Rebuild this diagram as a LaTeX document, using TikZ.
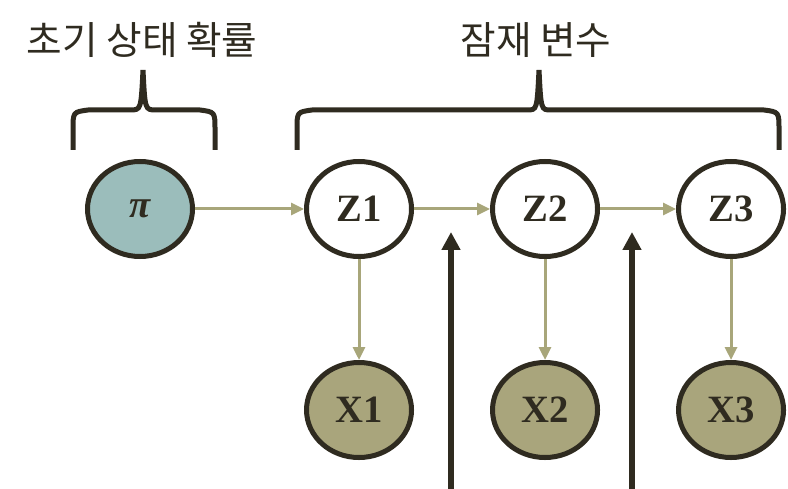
\documentclass[tikz,border=0pt]{standalone}
\usepackage{fontspec}
\setmainfont{Liberation Serif}
\newfontfamily\kfont{Noto Sans CJK KR}
\usetikzlibrary{shapes.geometric, arrows.meta, positioning}
\definecolor{ink}{HTML}{2F2B20}
\definecolor{pifill}{HTML}{9BBDBB}
\definecolor{xfill}{HTML}{A9A57C}
\definecolor{linkcol}{HTML}{A8A67A}
\tikzstyle{hidden} = [ellipse, minimum width=3.15cm, minimum height=2.85cm, draw=ink, line width=0.15cm, fill=white, text=ink, font=\fontsize{33}{36}\selectfont\bfseries]
\tikzstyle{prior} = [hidden, fill=pifill]
\tikzstyle{observed} = [hidden, fill=xfill]
\tikzstyle{link} = [line width=0.09cm, draw=linkcol, -{Triangle[length=0.39cm, width=0.36cm]}]
\tikzstyle{input} = [line width=0.18cm, draw=ink, -{Triangle[length=0.54cm, width=0.54cm]}]
\tikzstyle{brace} = [line width=0.15cm, draw=ink]
\tikzstyle{heading} = [text=ink, font=\kfont\fontsize{33}{38}\selectfont]

\begin{document}
\begin{tikzpicture}[x=0.03cm, y=-0.03cm, node distance=3.03cm and 2.28cm]
	\useasboundingbox (0,0) rectangle (788,489);
	\node (pi) [prior] at (140,209) {\textit{π}};
	\node (z1) [hidden, right=3.27cm of pi] {Z1};
	\node (z2) [hidden, right=of z1] {Z2};
	\node (z3) [hidden, right=of z2] {Z3};
	\node (x1) [observed, below=of z1] {X1};
	\node (x2) [observed, below=of z2] {X2};
	\node (x3) [observed, below=of z3] {X3};

	\draw [link] (pi) -- (z1);
	\draw [link] (z1) -- (z2);
	\draw [link] (z2) -- (z3);
	\draw [link] (z1) -- (x1);
	\draw [link] (z2) -- (x2);
	\draw [link] (z3) -- (x3);

	\coordinate (in1) at (451,489);
	\coordinate (in1tip) at (451,232);
	\coordinate (in2) at (632,489);
	\coordinate (in2tip) at (632,232);
	\draw [input] (in1) -- (in1tip);
	\draw [input] (in2) -- (in2tip);

	\draw [brace] (73,150) -- (73,130) .. controls (73,112) .. (88,110) -- (130,110) .. controls (141,110) .. (143,70) .. controls (145,110) .. (156,110) -- (200,110) .. controls (215,112) .. (215,130) -- (215,150);
	\draw [brace] (297,150) -- (297,130) .. controls (297,112) .. (312,110) -- (527,110) .. controls (537,110) .. (539,70) .. controls (541,110) .. (551,110) -- (764,110) .. controls (779,112) .. (779,130) -- (779,150);

	\node (initlbl) [heading] at (142,40) {초기 상태 확률};
	\node (latentlbl) [heading] at (536,40) {잠재 변수};
\end{tikzpicture}
\end{document}
